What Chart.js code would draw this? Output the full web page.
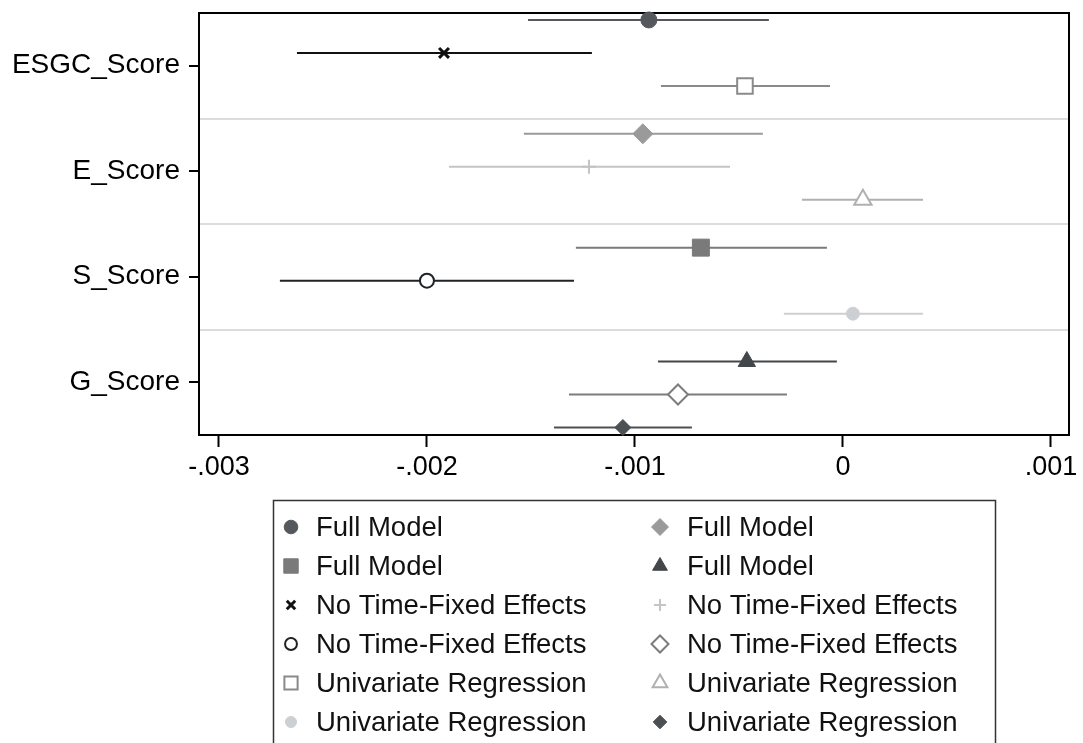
<!DOCTYPE html>
<html>
<head>
<meta charset="utf-8">
<script src="https://cdn.jsdelivr.net/npm/chart.js@4.4.0/dist/chart.umd.min.js"></script>
<style>
  html, body { margin: 0; padding: 0; background: #fff; }
  canvas { display: block; }
</style>
</head>
<body>
<canvas id="coefChart" width="1083" height="743"></canvas>
<script>
// coefficient plot - three model specifications per score

const categories = ['ESGC_Score', 'E_Score', 'S_Score', 'G_Score'];
const models = ['Full Model', 'No Time-Fixed Effects', 'Univariate Regression'];
const xTicks = [-0.003, -0.002, -0.001, 0, 0.001];

// point estimates and CI bounds, one value per category (ESGC, E, S, G)
const fullCoef = [-0.000933, -0.000962, -0.000683, -0.000462];
const fullLow = [-0.001514, -0.001534, -0.001284, -0.000889];
const fullHigh = [-0.000356, -0.000385, -0.000077, -0.000029];

const noTfeCoef = [-0.001918, -0.001221, -0.002000, -0.000793];
const noTfeLow = [-0.002625, -0.001894, -0.002707, -0.001317];
const noTfeHigh = [-0.001207, -0.000543, -0.001293, -0.000269];

const uniCoef = [-0.000471, 0.000096, 0.000048, -0.001058];
const uniLow = [-0.000875, -0.000197, -0.000284, -0.001389];
const uniHigh = [-0.000062, 0.000385, 0.000385, -0.000726];

// marker look for each model (rows) and category (columns)
const markerStyles = [
    [
        { shape: 'circle', color: '#55595d', r: 8, fill: true },
        { shape: 'rectRot', color: '#9a9a9a', r: 10, fill: true },
        { shape: 'rect', color: '#7a7a7a', r: 12, fill: true },
        { shape: 'triangle', color: '#43474a', r: 10, fill: true }
    ],
    [
        { shape: 'crossRot', color: '#111111', r: 7, fill: true, lw: 3 },
        { shape: 'cross', color: '#c4c4c4', r: 7, fill: true, lw: 2 },
        { shape: 'circle', color: '#1f2326', r: 7, fill: false },
        { shape: 'rectRot', color: '#7c7c7c', r: 10, fill: false }
    ],
    [
        { shape: 'rect', color: '#8a8a8a', r: 11, fill: false },
        { shape: 'triangle', color: '#b0b0b0', r: 10, fill: false },
        { shape: 'circle', color: '#cdd0d3', r: 6.5, fill: true },
        { shape: 'rectRot', color: '#4d5053', r: 8, fill: true }
    ]
];

const coefs = [fullCoef, noTfeCoef, uniCoef];
const lows = [fullLow, noTfeLow, uniLow];
const highs = [fullHigh, noTfeHigh, uniHigh];

const FONT = '"Liberation Sans", Arial, Helvetica, sans-serif';

// row layout within a category band (coefplot style offsets)
const rowStart = 0.566, rowStep = 0.313, groupGap = 0.14;

const datasets = [];
categories.forEach((cat, g) => {
    models.forEach((name, m) => {
        const y = rowStart + (g * 3 + m) * rowStep + g * groupGap;
        const st = markerStyles[m][g];
        // confidence interval
        datasets.push({
            label: name + ' CI',
            isCI: true,
            data: [{ x: lows[m][g], y: y }, { x: highs[m][g], y: y }],
            showLine: true,
            borderColor: st.color,
            borderWidth: 2,
            pointRadius: 0,
            clip: false,
            order: 2
        });
        // point estimate
        datasets.push({
            label: name,
            legendIndex: m * 4 + g,
            data: [{ x: coefs[m][g], y: y }],
            pointStyle: st.shape,
            pointRadius: st.r,
            pointBackgroundColor: st.fill ? st.color : '#ffffff',
            pointBorderColor: st.color,
            pointBorderWidth: st.lw ? st.lw : (st.fill ? 1 : 2),
            clip: false,
            order: 1
        });
    });
});

const transparent = 'rgba(0,0,0,0)';

const framePlugin = {
    id: 'frame',
    beforeDatasetsDraw: (chart) => {
        const a = chart.chartArea;
        const ctx = chart.ctx;
        ctx.save();
        ctx.strokeStyle = '#000';
        ctx.lineWidth = 2;
        ctx.strokeRect(a.left, a.top, a.right - a.left, a.bottom - a.top);
        ctx.restore();
    }
};

// two-column bordered legend below the plot
const legendPlugin = {
    id: 'gridLegend',
    afterDraw: (chart) => {
        const ctx = chart.ctx;
        ctx.save();
        ctx.strokeStyle = '#333';
        ctx.lineWidth = 1.5;
        ctx.strokeRect(273.5, 500.5, 722, 260);

        const items = chart.data.datasets.filter(d => !d.isCI)
            .sort((a, b) => a.legendIndex - b.legendIndex);
        items.forEach((d, i) => {
            const col = i % 2;
            const row = Math.floor(i / 2);
            const mx = col ? 660 : 291;
            const tx = col ? 687 : 316;
            const y = 527 + row * 39;

            ctx.fillStyle = d.pointBackgroundColor;
            ctx.strokeStyle = d.pointBorderColor;
            ctx.lineWidth = d.pointBorderWidth;
            Chart.helpers.drawPoint(ctx, {
                pointStyle: d.pointStyle,
                radius: d.pointRadius * 0.85,
                borderWidth: d.pointBorderWidth,
                rotation: 0
            }, mx, y);

            ctx.fillStyle = '#111';
            ctx.font = '27.5px ' + FONT;
            ctx.textAlign = 'left';
            ctx.textBaseline = 'middle';
            ctx.fillText(d.label, tx, y + 1);
        });
        ctx.restore();
    }
};

const fmtTick = (v) => {
    if (v === 0) return '0';
    const s = String(Math.abs(v)).replace(/^0/, '');
    return (v < 0 ? '-' : '') + s;
};

new Chart(document.getElementById('coefChart').getContext('2d'), {
    type: 'scatter',
    data: { datasets: datasets },
    options: {
        responsive: false,
        animation: false,
        events: [],
        layout: { padding: { top: 10, right: 14, bottom: 258, left: 0 } },
        plugins: {
            legend: { display: false },
            tooltip: { enabled: false }
        },
        scales: {
            x: {
                type: 'linear',
                min: -0.003096,
                max: 0.001087,
                afterBuildTicks: (s) => { s.ticks = xTicks.map(v => ({ value: v })); },
                afterFit: (s) => { s.height = 50; s.paddingLeft = 0; s.paddingRight = 0; },
                border: { display: false },
                grid: {
                    drawOnChartArea: false,
                    drawTicks: true,
                    tickLength: 12,
                    tickWidth: 2,
                    tickColor: '#000'
                },
                ticks: {
                    color: '#000',
                    padding: 4,
                    maxRotation: 0,
                    font: { family: FONT, size: 27 },
                    callback: (v) => fmtTick(v)
                }
            },
            y: {
                type: 'linear',
                reverse: true,
                min: 0.5,
                max: 4.5,
                afterBuildTicks: (s) => {
                    s.ticks = [1, 1.5, 2, 2.5, 3, 3.5, 4].map(v => ({ value: v }));
                },
                afterFit: (s) => { s.width = 199; s.paddingTop = 0; s.paddingBottom = 0; },
                border: { display: false },
                grid: {
                    drawOnChartArea: true,
                    drawTicks: true,
                    tickLength: 10,
                    tickWidth: 2,
                    lineWidth: 2,
                    color: (c) => Number.isInteger(c.tick.value) ? transparent : '#dcdcdc',
                    tickColor: (c) => Number.isInteger(c.tick.value) ? '#000' : transparent
                },
                ticks: {
                    color: '#000',
                    padding: 9,
                    autoSkip: false,
                    font: { family: FONT, size: 28 },
                    callback: (v) => Number.isInteger(v) ? categories[v - 1] : ''
                }
            }
        }
    },
    plugins: [framePlugin, legendPlugin]
});
</script>
</body>
</html>
